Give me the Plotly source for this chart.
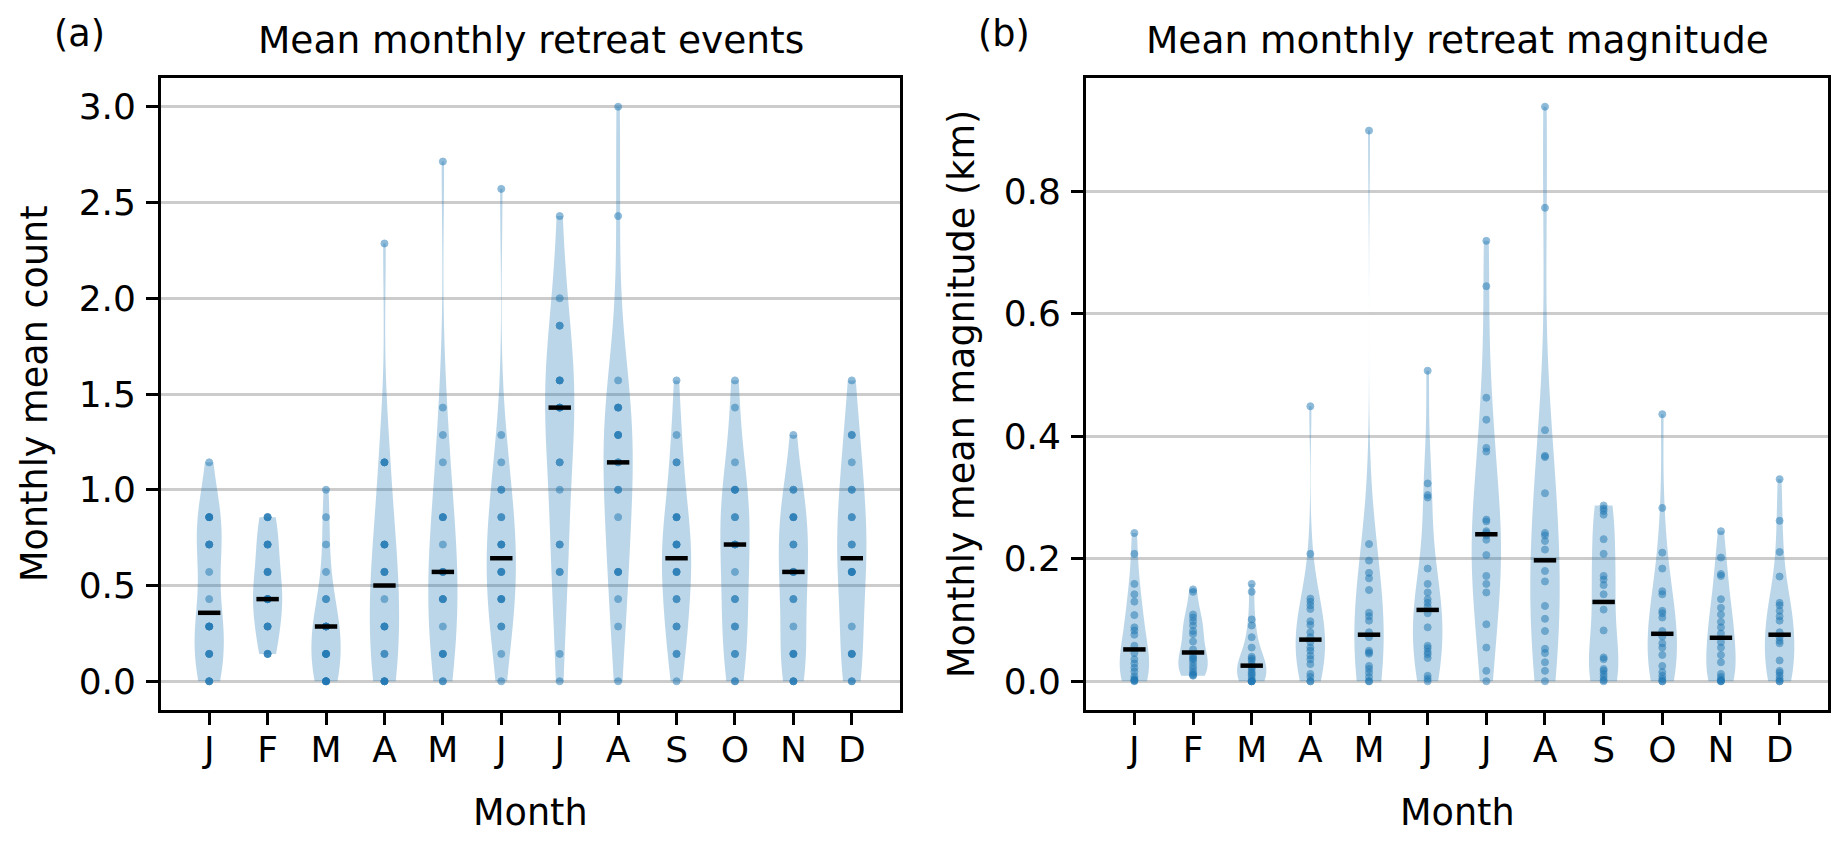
import numpy as np
import plotly.graph_objects as go

months = ['J', 'F', 'M', 'A', 'M', 'J', 'J', 'A', 'S', 'O', 'N', 'D']
positions = list(range(1, 13))

# ---- Panel (a): monthly mean count of retreat events (per year) ----
a_jan = [0, 0, 0, 0.143, 0.143, 0.143, 0.286, 0.286, 0.286, 0.286, 0.429, 0.571,
         0.714, 0.714, 0.714, 0.857, 0.857, 0.857, 0.857, 1.143]
a_feb = [0.143, 0.143, 0.143, 0.286, 0.286, 0.286, 0.429, 0.429, 0.429, 0.429, 0.429,
         0.571, 0.571, 0.571, 0.714, 0.714, 0.714, 0.857, 0.857, 0.857]
a_mar = [0, 0, 0, 0, 0, 0.143, 0.143, 0.143, 0.143, 0.286, 0.286, 0.286, 0.286, 0.286,
         0.429, 0.429, 0.571, 0.714, 0.857, 1.0]
a_apr = [0, 0, 0, 0, 0.143, 0.143, 0.286, 0.286, 0.286, 0.429, 0.571, 0.571, 0.571,
         0.714, 0.714, 0.714, 1.143, 1.143, 1.143, 2.286]
a_may = [0, 0, 0.143, 0.143, 0.143, 0.286, 0.429, 0.429, 0.429, 0.571, 0.571, 0.571,
         0.714, 0.857, 0.857, 0.857, 1.143, 1.286, 1.429, 2.714]
a_jun = [0, 0.143, 0.286, 0.286, 0.429, 0.429, 0.429, 0.571, 0.571, 0.571, 0.714, 0.714,
         0.714, 0.857, 0.857, 1.0, 1.0, 1.143, 1.286, 2.571]
a_jul = [0, 0.143, 0.571, 0.571, 0.714, 0.714, 1.0, 1.143, 1.143, 1.429, 1.429, 1.429,
         1.429, 1.571, 1.571, 1.571, 1.857, 1.857, 2.0, 2.429]
a_aug = [0, 0.286, 0.429, 0.571, 0.571, 0.571, 0.857, 1.0, 1.0, 1.143, 1.143, 1.286,
         1.286, 1.286, 1.429, 1.429, 1.429, 1.571, 2.429, 3.0]
a_sep = [0, 0.143, 0.143, 0.286, 0.286, 0.429, 0.429, 0.571, 0.571, 0.571, 0.714, 0.714,
         0.714, 0.857, 0.857, 0.857, 1.143, 1.143, 1.286, 1.571]
a_oct = [0, 0, 0.143, 0.143, 0.286, 0.286, 0.429, 0.429, 0.571, 0.714, 0.714, 0.714,
         0.857, 0.857, 1.0, 1.0, 1.0, 1.143, 1.429, 1.571]
a_nov = [0, 0, 0, 0.143, 0.143, 0.143, 0.286, 0.429, 0.429, 0.571, 0.571, 0.571,
         0.714, 0.714, 0.857, 0.857, 0.857, 1.0, 1.0, 1.286]
a_dec = [0, 0, 0.143, 0.143, 0.143, 0.286, 0.571, 0.571, 0.571, 0.571, 0.714, 0.714,
         0.857, 0.857, 1.0, 1.0, 1.143, 1.286, 1.286, 1.571]

# ---- Panel (b): monthly mean retreat magnitude (km) ----
b_jan = [0.242, 0.208, 0.159, 0.142, 0.130, 0.108, 0.088, 0.083, 0.076, 0.058,
         0.046, 0.036, 0.029, 0.022, 0.016, 0.008, 0.004, 0.002, 0.001, 0.0]
b_feb = [0.150, 0.146, 0.109, 0.104, 0.098, 0.091, 0.082, 0.077, 0.065, 0.052,
         0.042, 0.038, 0.036, 0.031, 0.025, 0.020, 0.015, 0.012, 0.010, 0.009]
b_mar = [0.159, 0.146, 0.101, 0.091, 0.072, 0.055, 0.040, 0.037, 0.034, 0.028,
         0.023, 0.020, 0.015, 0.012, 0.009, 0.004, 0.0, 0.0, 0.0, 0.0]
b_apr = [0.449, 0.208, 0.135, 0.130, 0.124, 0.118, 0.098, 0.092, 0.080, 0.072,
         0.064, 0.055, 0.050, 0.042, 0.036, 0.028, 0.012, 0.007, 0.0, 0.0]
b_may = [0.899, 0.224, 0.197, 0.177, 0.168, 0.149, 0.112, 0.106, 0.099, 0.080,
         0.072, 0.050, 0.047, 0.045, 0.025, 0.020, 0.014, 0.007, 0.0, 0.0]
b_jun = [0.507, 0.323, 0.304, 0.300, 0.184, 0.159, 0.145, 0.134, 0.128, 0.122,
         0.111, 0.088, 0.058, 0.054, 0.048, 0.044, 0.038, 0.009, 0.004, 0.0]
b_jul = [0.719, 0.645, 0.463, 0.427, 0.381, 0.375, 0.264, 0.261, 0.245, 0.242,
         0.238, 0.231, 0.206, 0.172, 0.159, 0.145, 0.093, 0.055, 0.017, 0.0]
b_aug = [0.938, 0.773, 0.410, 0.368, 0.366, 0.307, 0.242, 0.238, 0.229, 0.215,
         0.180, 0.163, 0.123, 0.102, 0.082, 0.053, 0.046, 0.031, 0.017, 0.0]
b_sep = [0.287, 0.282, 0.278, 0.272, 0.232, 0.208, 0.172, 0.166, 0.157, 0.142,
         0.117, 0.083, 0.039, 0.036, 0.020, 0.017, 0.012, 0.007, 0.002, 0.0]
b_oct = [0.436, 0.283, 0.210, 0.184, 0.147, 0.142, 0.115, 0.111, 0.104, 0.082,
         0.073, 0.062, 0.055, 0.043, 0.025, 0.015, 0.009, 0.004, 0.0, 0.0]
b_nov = [0.245, 0.202, 0.175, 0.172, 0.134, 0.120, 0.109, 0.097, 0.088, 0.078,
         0.064, 0.055, 0.043, 0.031, 0.012, 0.007, 0.003, 0.001, 0.0, 0.0]
b_dec = [0.330, 0.262, 0.211, 0.171, 0.128, 0.124, 0.115, 0.106, 0.099, 0.080,
         0.072, 0.066, 0.062, 0.034, 0.017, 0.014, 0.009, 0.004, 0.0, 0.0]

panel_a = [a_jan, a_feb, a_mar, a_apr, a_may, a_jun, a_jul, a_aug, a_sep, a_oct, a_nov, a_dec]
panel_b = [b_jan, b_feb, b_mar, b_apr, b_may, b_jun, b_jul, b_aug, b_sep, b_oct, b_nov, b_dec]

a_ticks = [0.0, 0.5, 1.0, 1.5, 2.0, 2.5, 3.0]
b_ticks = [0.0, 0.2, 0.4, 0.6, 0.8]

FONT = 'DejaVu Sans'
BLUE = '#1f77b4'
W, H = 1846, 841

fig = go.Figure()


def add_panel(data, xa, ya):
    for pos, vals in zip(positions, data):
        v = np.asarray(vals, dtype=float)
        bw = np.std(v, ddof=1) * len(v) ** (-0.2)  # Scott's rule
        fig.add_trace(go.Violin(
            x=[pos] * len(v), y=v, xaxis=xa, yaxis=ya,
            width=0.5, spanmode='hard', bandwidth=bw,
            fillcolor='rgba(31,119,180,0.3)',
            line=dict(width=0, color='rgba(31,119,180,0)'),
            points=False, box_visible=False, meanline_visible=False,
            hoverinfo='skip', showlegend=False, orientation='v'))
    xs, ys = [], []
    for pos, vals in zip(positions, data):
        xs += [pos] * len(vals)
        ys += list(vals)
    fig.add_trace(go.Scatter(
        x=xs, y=ys, xaxis=xa, yaxis=ya, mode='markers',
        marker=dict(size=7, color=BLUE, opacity=0.5,
                    line=dict(width=1, color=BLUE)),
        hoverinfo='skip', showlegend=False))
    fig.add_trace(go.Scatter(
        x=positions, y=[float(np.median(v)) for v in data], xaxis=xa, yaxis=ya,
        mode='markers',
        marker=dict(symbol='line-ew', size=16, color='black',
                    line=dict(width=4.5, color='black')),
        hoverinfo='skip', showlegend=False))


add_panel(panel_a, 'x', 'y')
add_panel(panel_b, 'x2', 'y2')

x0a, x1a = 153 / W, 892 / W
x0b, x1b = 1078 / W, 1820 / W
y0, y1 = 1 - 702 / H, 1 - 70 / H

common_x = dict(range=[0.175, 12.825], tickmode='array', tickvals=positions, ticktext=months,
                ticks='outside', ticklen=12, tickwidth=2.7, tickcolor='black',
                showline=True, linewidth=2.7, linecolor='black', mirror=True,
                showgrid=False, zeroline=False, ticklabelstandoff=-6,
                tickfont=dict(family=FONT, size=36, color='black'))
common_y = dict(ticks='outside', ticklen=12, tickwidth=2.7, tickcolor='black',
                showline=True, linewidth=2.7, linecolor='black', mirror=True,
                showgrid=True, gridcolor='#cccccc', gridwidth=2.7, zeroline=False,
                ticklabelstandoff=3, tickmode='array',
                tickfont=dict(family=FONT, size=36, color='black'))

fig.update_layout(
    width=W, height=H, margin=dict(l=0, r=0, t=0, b=0),
    paper_bgcolor='white', plot_bgcolor='white', violinmode='overlay',
    xaxis=dict(domain=[x0a, x1a], anchor='y', **common_x),
    xaxis2=dict(domain=[x0b, x1b], anchor='y2', **common_x),
    yaxis=dict(domain=[y0, y1], anchor='x', range=[-0.15, 3.15], tickvals=a_ticks,
               ticktext=[f'{t:.1f}' for t in a_ticks], **common_y),
    yaxis2=dict(domain=[y0, y1], anchor='x2', range=[-0.0469, 0.9849], tickvals=b_ticks,
                ticktext=[f'{t:.1f}' for t in b_ticks], **common_y),
)

title_font = dict(family=FONT, size=37.5, color='black')
label_font = dict(family=FONT, size=36.6, color='black')
ann = [
    dict(text='Mean monthly retreat events', x=(x0a + x1a) / 2, y=1 - 32 / H, font=title_font),
    dict(text='Mean monthly retreat magnitude', x=(x0b + x1b) / 2, y=1 - 32 / H, font=title_font),
    dict(text='(a)', x=71 / W, y=1 - 25 / H, font=label_font),
    dict(text='(b)', x=996 / W, y=1 - 25 / H, font=label_font),
    dict(text='Month', x=(x0a + x1a) / 2, y=1 - 804 / H, font=label_font),
    dict(text='Month', x=(x0b + x1b) / 2, y=1 - 804 / H, font=label_font),
    dict(text='Monthly mean count', x=27 / W, y=(y0 + y1) / 2, textangle=-90, font=label_font),
    dict(text='Monthly mean magnitude (km)', x=954 / W, y=(y0 + y1) / 2, textangle=-90,
         font=label_font),
]
for a in ann:
    a.update(xref='paper', yref='paper', showarrow=False,
             xanchor='center', yanchor='middle')
fig.update_layout(annotations=ann)

fig.write_html('out.html')
